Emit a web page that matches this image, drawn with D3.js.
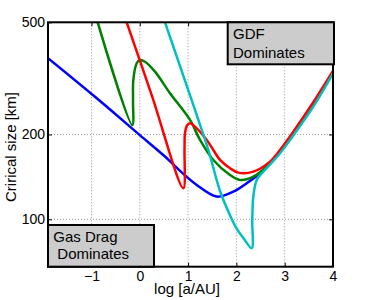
<!DOCTYPE html>
<html>
<head>
<meta charset="utf-8">
<script src="https://cdn.jsdelivr.net/npm/d3@7"></script>
<style>
  body { margin: 0; background: #fff; }
  svg { display: block; font-family: "Liberation Sans", Arial, sans-serif; }
</style>
</head>
<body>
<div id="chart-area"></div>
<script>
// ticks
var xTicks = [-1, 0, 1, 2, 3, 4];
var yTicks = [100, 200, 500];

// curves (x = log a/AU, y = critical size km)
var blueX  = [-1.9, -0.927, 0, 0.522, 0.833, 1.179, 1.593, 1.937, 2.214, 2.489, 2.661, 2.903, 3.146, 3.593, 4];
var blueY  = [373, 272, 199, 167, 148.5, 132.4, 120.4, 125.4, 134.3, 145.7, 155.9, 174.8, 199.2, 258.1, 333];

var greenX = [-0.871, -0.155, -0.14, -0.134, -0.064, 0, 0.108, 0.315, 0.626, 1.04, 1.247, 1.522, 1.868, 2.075, 2.351, 2.661, 2.903, 3.146, 3.593, 4];
var greenY = [500, 216, 265, 312, 357.8, 367.5, 362.4, 334.1, 280, 225.2, 191.2, 162.4, 143.7, 137.9, 141.7, 155.9, 174.8, 199.2, 258.1, 333];

var redX   = [-0.271, 0.247, 0.901, 0.926, 0.936, 0.978, 1.04, 1.143, 1.386, 1.522, 1.661, 1.868, 2.04, 2.351, 2.696, 2.903, 3.146, 3.593, 4];
var redY   = [500, 276, 128.9, 176.2, 202, 215.3, 219.2, 213.2, 191.2, 176.2, 162.4, 151.8, 146.4, 147.6, 160.2, 176.2, 200.8, 260.2, 335.9];

var cyanX  = [0.522, 1.143, 1.419, 1.661, 1.85, 2.0, 2.15, 2.317, 2.328, 2.351, 2.421, 2.558, 2.765, 2.924, 3.163, 3.614, 4];
var cyanY  = [500, 244.3, 176.2, 126, 105, 93, 85.5, 79.0, 99.5, 120.4, 137.9, 147.6, 161.1, 173.4, 196.8, 254.5, 329.2];

var seriesColors = ["#0000ff", "#008000", "#ff0000", "#00bfbf"];

var series = [
    d3.zip(blueX, blueY),
    d3.zip(greenX, greenY),
    d3.zip(redX, redY),
    d3.zip(cyanX, cyanY)
];

var W = 370, H = 300;
var pLeft = 48, pRight = 333, pTop = 22.3, pBottom = 266.7;

var svg = d3.select("#chart-area")
    .append("svg")
        .attr("width", W)
        .attr("height", H);

var x = d3.scaleLinear().domain([-1.9, 4]).range([pLeft, pRight]);
var y = d3.scaleLog().domain([67.9, 500]).range([pBottom, pTop]);

svg.append("clipPath").attr("id", "clip")
  .append("rect")
    .attr("x", pLeft).attr("y", pTop)
    .attr("width", pRight - pLeft).attr("height", pBottom - pTop);

// grid
var grid = svg.append("g").attr("stroke", "#999").attr("stroke-width", 1)
    .attr("stroke-dasharray", "1,2");
grid.selectAll(".gx").data(xTicks.filter(d => d < 4)).join("line")
    .attr("x1", d => x(d)).attr("x2", d => x(d))
    .attr("y1", pTop).attr("y2", pBottom);
grid.selectAll(".gy").data(yTicks.filter(d => d < 500)).join("line")
    .attr("x1", pLeft).attr("x2", pRight)
    .attr("y1", d => y(d)).attr("y2", d => y(d));

// curves
var line = d3.line()
    .x(d => x(d[0]))
    .y(d => y(d[1]))
    .curve(d3.curveCatmullRom.alpha(0.5));

svg.append("g").attr("clip-path", "url(#clip)")
  .selectAll("path")
  .data(series)
  .join("path")
    .attr("d", line)
    .attr("fill", "none")
    .attr("stroke", (d, i) => seriesColors[i])
    .attr("stroke-width", 2.5)
    .attr("stroke-linejoin", "round");

// axes (ticks pointing in)
var xAxis = svg.append("g")
    .attr("transform", "translate(0," + pBottom + ")")
    .call(d3.axisBottom(x).tickValues(xTicks).tickSizeInner(-4).tickSizeOuter(0).tickPadding(4)
        .tickFormat(d => d < 0 ? "\u2212" + Math.abs(d) : d));
svg.append("g")
    .attr("transform", "translate(0," + pTop + ")")
    .call(d3.axisTop(x).tickValues(xTicks).tickSizeInner(-4).tickSizeOuter(0).tickFormat(""));

var yAxis = svg.append("g")
    .attr("transform", "translate(" + pLeft + ",0)")
    .call(d3.axisLeft(y).tickValues(yTicks).tickSizeInner(-4).tickSizeOuter(0).tickPadding(3)
        .tickFormat(d => d));
svg.append("g")
    .attr("transform", "translate(" + pRight + ",0)")
    .call(d3.axisRight(y).tickValues(yTicks).tickSizeInner(-4).tickSizeOuter(0).tickFormat(""));

svg.selectAll(".domain").remove();
svg.selectAll(".tick line").attr("stroke", "#000");
svg.selectAll(".tick text")
    .attr("font-family", "Liberation Sans, Arial, sans-serif")
    .attr("font-size", 14)
    .attr("fill", "#000");
xAxis.selectAll(".tick text").attr("dy", "0.71em");

// frame
svg.append("rect")
    .attr("x", pLeft).attr("y", pTop)
    .attr("width", pRight - pLeft).attr("height", pBottom - pTop)
    .attr("fill", "none").attr("stroke", "#000").attr("stroke-width", 2);

// labels
svg.append("text")
    .attr("x", 187).attr("y", 294)
    .attr("text-anchor", "middle")
    .attr("font-size", 15)
    .text("log [a/AU]");

svg.append("text")
    .attr("transform", "translate(16,147) rotate(-90)")
    .attr("text-anchor", "middle")
    .attr("font-size", 15)
    .text("Crirical size [km]");

// annotation boxes
svg.append("rect")
    .attr("x", 227.7).attr("y", pTop)
    .attr("width", pRight + 1 - 227.7).attr("height", 64.3 - pTop)
    .attr("fill", "#cccccc").attr("stroke", "#000").attr("stroke-width", 2);
svg.append("text").attr("x", 233).attr("y", 39).attr("font-size", 15).text("GDF");
svg.append("text").attr("x", 233).attr("y", 57.5).attr("font-size", 15).text("Dominates");

svg.append("rect")
    .attr("x", pLeft).attr("y", 225)
    .attr("width", 154 - pLeft).attr("height", pBottom - 225)
    .attr("fill", "#cccccc").attr("stroke", "#000").attr("stroke-width", 2);
svg.append("text").attr("x", 53.3).attr("y", 241.7).attr("font-size", 15).text("Gas Drag");
svg.append("text").attr("x", 57.3).attr("y", 259.3).attr("font-size", 15).text("Dominates");
</script>
</body>
</html>
